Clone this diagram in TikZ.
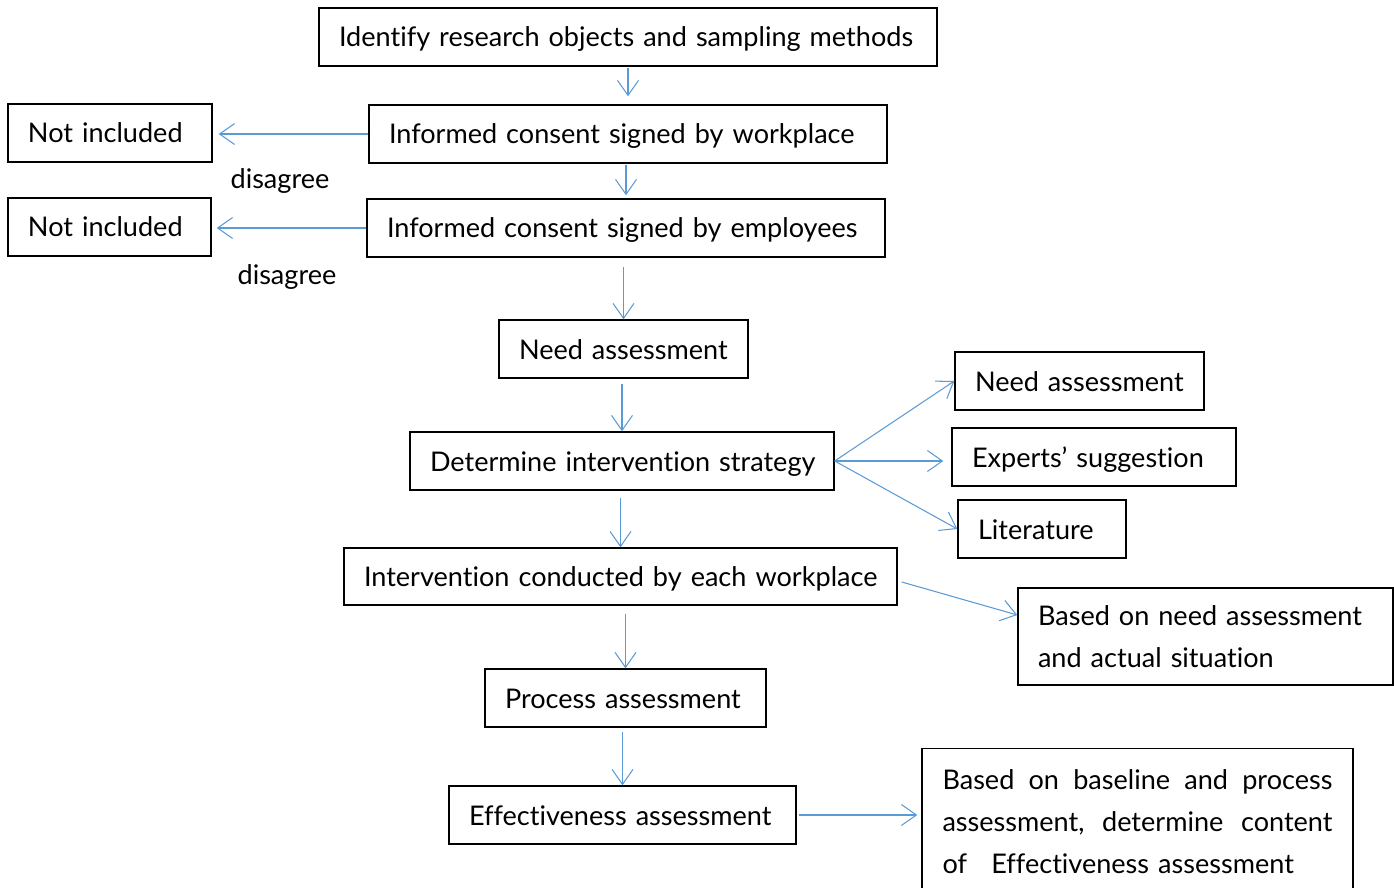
\documentclass[tikz,border=0pt]{standalone}
\usepackage{fontspec}
\setmainfont{Lato}[Ligatures=NoCommon]
\usetikzlibrary{arrows.meta}
\definecolor{arrowblue}{RGB}{91,155,213}
\begin{document}
\begin{tikzpicture}[
    box/.style={draw=black, line width=0.8pt, minimum height=1.16cm, inner xsep=0.4cm, inner ysep=0pt, align=left, font=\fontsize{15.4}{24}\selectfont},
    line/.style={box, text height=0.45cm, text depth=0.05cm, execute at begin node=\hbox\bgroup, execute at end node=\egroup},
    label/.style={font=\fontsize{15.4}{24}\selectfont},
    arr/.style={draw=arrowblue, line width=0.6pt, -{Straight Barb[length=0.3cm,width=0.42cm]}}
  ]
  \useasboundingbox (0,0) rectangle (27.88,17.74);
  \node[line, text width=11.56cm] (identify) at (12.56,17.00) {Identify research objects and sampling methods};
  \node[line, text width=9.56cm] (workplace) at (12.56,15.06) {Informed consent signed by workplace};
  \node[line, text width=3.28cm] (excluded1) at (2.20,15.08) {Not included};
  \node[label] (disagree1) at (5.60,14.12) {disagree};
  \node[line, text width=9.56cm] (employees) at (12.52,13.18) {Informed consent signed by employees};
  \node[line, text width=3.26cm] (excluded2) at (2.19,13.20) {Not included};
  \node[label] (disagree2) at (5.74,12.20) {disagree};
  \node[line, text width=4.18cm] (need) at (12.47,10.76) {Need assessment};
  \node[line, text width=7.68cm] (strategy) at (12.44,8.52) {Determine intervention strategy};
  \node[line, text width=4.18cm] (needsrc) at (21.59,10.12) {Need assessment};
  \node[line, text width=4.88cm] (experts) at (21.88,8.60) {Experts’ suggestion};
  \node[line, text width=2.56cm] (literature) at (20.84,7.16) {Literature};
  \node[line, text width=10.26cm, minimum height=1.14cm] (conduct) at (12.41,6.21) {Intervention conducted by each workplace};
  \node[box, text width=6.70cm, minimum height=1.94cm] (basis) at (24.11,5.01) {Based on need assessment\\and actual situation};
  \node[line, text width=4.82cm] (process) at (12.51,3.78) {Process assessment};
  \node[line, text width=6.14cm] (effect) at (12.45,1.44) {Effectiveness assessment};
  \node[box, text width=7.80cm, inner xsep=0.41cm, inner ysep=0.42cm, anchor=north] (outcome) at (22.75,2.78)
    {\makebox[7.80cm][l]{Based\hfill on\hfill baseline\hfill and\hfill process}\\\makebox[7.80cm][l]{assessment,\hfill determine\hfill content}\\of\hspace{0.9em}Effectiveness assessment};
  % main line
  \draw[arr, shorten <=1pt] (workplace.north |- identify.south) -- ([yshift=0.16cm]workplace.north);
  \draw[arr, shorten <=1pt] (employees.north |- workplace.south) -- ([yshift=0.06cm]employees.north);
  \draw[arr, shorten <=0.18cm] (need.north |- employees.south) -- (need.north);
  \draw[arr, shorten <=0.1cm] (strategy.north |- need.south) -- (strategy.north);
  \draw[arr, shorten <=0.14cm] (conduct.north |- strategy.south) -- (conduct.north);
  \draw[arr, shorten <=0.16cm] (process.north |- conduct.south) -- (process.north);
  \draw[arr, shorten <=0.08cm] (effect.north |- process.south) -- (effect.north);
  % refusals
  \draw[arr, shorten >=0.12cm] (workplace.west) -- (workplace.west -| excluded1.east);
  \draw[arr, shorten >=0.1cm] (employees.west) -- (employees.west -| excluded2.east);
  % sources of the strategy
  \draw[arr] (strategy.east) -- (needsrc.west);
  \draw[arr, shorten >=0.16cm] (strategy.east) -- (strategy.east -| experts.west);
  \draw[arr] (strategy.east) -- (literature.west);
  \draw[arr] ([xshift=0.08cm,yshift=-0.11cm]conduct.east) -- ([yshift=0.43cm]basis.west);
  \draw[arr, shorten <=0.04cm, shorten >=0.08cm] (effect.east) -- (effect.east -| outcome.west);
\end{tikzpicture}
\end{document}
